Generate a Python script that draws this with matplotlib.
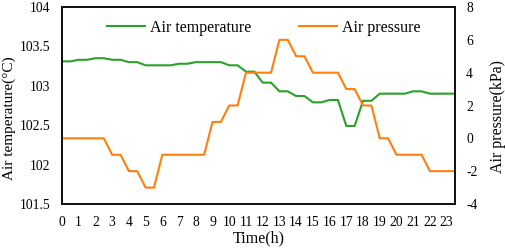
import matplotlib
matplotlib.use("Agg")
import matplotlib.pyplot as plt

hours = list(range(24))
air_temperature = [103.31, 103.33, 103.35, 103.33, 103.30, 103.26, 103.26, 103.28,
                   103.30, 103.30, 103.26, 103.18, 103.04, 102.93, 102.87, 102.79,
                   102.82, 102.49, 102.81, 102.90, 102.90, 102.93, 102.90, 102.90]
air_pressure = [0, 0, 0, -1, -2, -3, -1, -1, -1, 1, 2, 4, 4, 6, 5, 4, 4, 3, 2, 0, -1, -1, -2, -2]
temp_ticks = [101.5, 102, 102.5, 103, 103.5, 104]
temp_labels = ['101.5', '102', '102.5', '103', '103.5', '104']
pres_ticks = [-4, -2, 0, 2, 4, 6, 8]
pres_labels = ['-4', '-2', '0', '2', '4', '6', '8']

# each hourly value is held for half an hour
t, temp, pres = [], [], []
for h, a, p in zip(hours, air_temperature, air_pressure):
    t += [h, h + 0.5]
    temp += [a, a]
    pres += [p, p]

plt.rcParams['font.family'] = ['Liberation Serif', 'DejaVu Serif']
fs = 9.8

fig = plt.figure(figsize=(5.05, 2.49), dpi=100)
ax = fig.add_axes([62/505, 1 - 204/249, (455-62)/505, (204-7)/249])
ax2 = ax.twinx()

l1, = ax.plot(t, temp, color='#2ca02c', lw=1.5)
l2, = ax2.plot(t, pres, color='#ff7f0e', lw=1.5)

ax.set_xlim(0, 23.5)
ax.set_ylim(101.5, 104)
ax2.set_ylim(-4, 8)
ax.set_xticks(hours)
ax.set_xticklabels([str(h) for h in hours], fontsize=fs)
ax.set_yticks(temp_ticks)
ax.set_yticklabels(temp_labels, fontsize=fs)
ax2.set_yticks(pres_ticks)
ax2.set_yticklabels(pres_labels, fontsize=fs)

ax.tick_params(axis='x', length=0, pad=8.5)
ax.tick_params(axis='y', length=0, pad=8.5)
ax2.tick_params(axis='y', length=0, pad=8)
for a in (ax, ax2):
    for s in a.spines.values():
        s.set_linewidth(1.3)
        s.set_color('#111111')

ax.set_xlabel('Time(h)', fontsize=11.5, labelpad=1.5)
ax.set_ylabel('Air temperature(°C)', fontsize=11)
ax2.set_ylabel('Air pressure(kPa)', fontsize=11.5)
ax.yaxis.set_label_coords(-0.117, 0.437)
ax2.yaxis.set_label_coords(1.089, 0.445)

ax.legend([l1, l2], ['Air temperature', 'Air pressure'], ncol=2, frameon=False,
          loc='center left', bbox_to_anchor=(0.1137, 0.895), fontsize=11.5,
          borderpad=0, borderaxespad=0,
          handlelength=2.4, handletextpad=0.33, columnspacing=2.96)

fig.savefig('out.png', dpi=100)
